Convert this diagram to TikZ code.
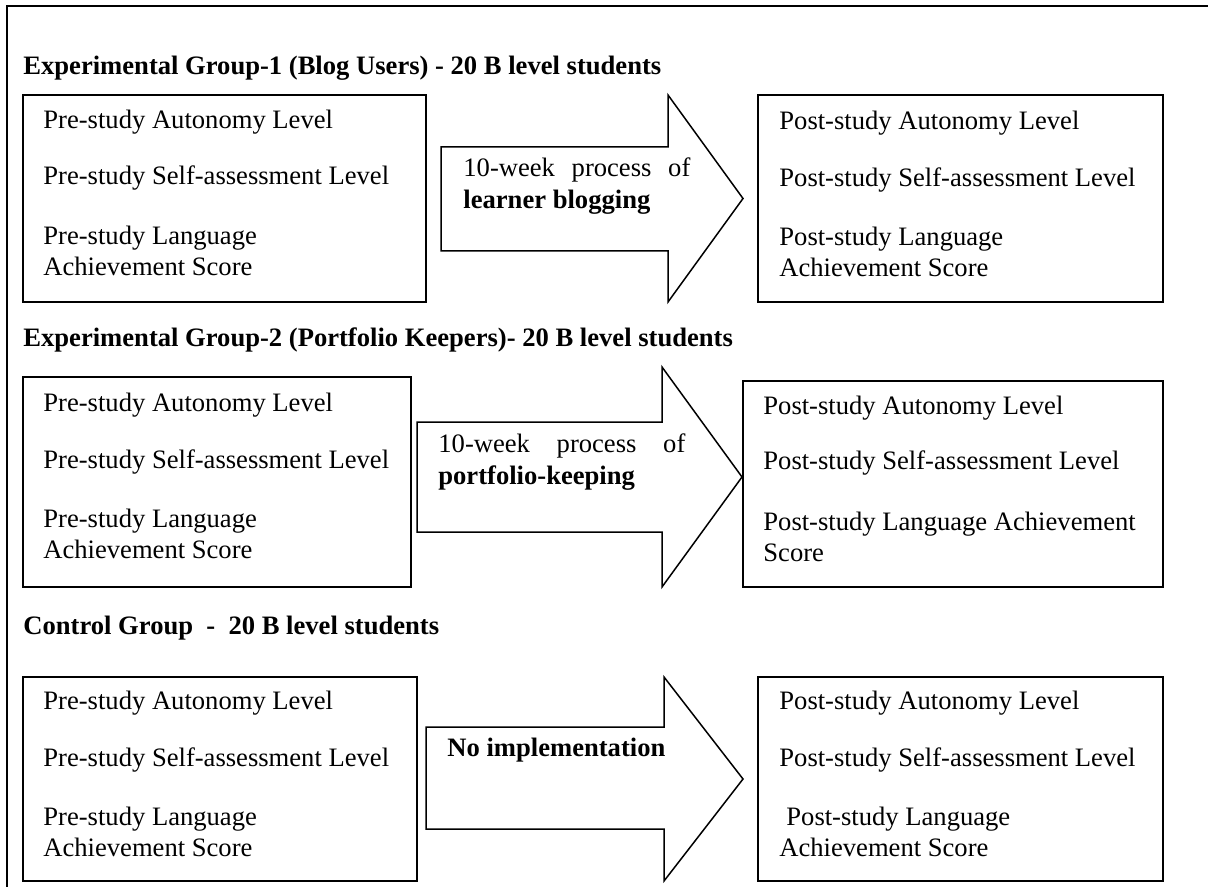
\documentclass[tikz,border=0pt]{standalone}
\usepackage{fontspec}
\setmainfont{Liberation Serif}
\begin{document}
\begin{tikzpicture}[x=0.5pt,y=-0.5pt,
    every node/.style={inner sep=0pt,font=\fontsize{13.3}{15.8}\selectfont},
    databox/.style={draw,line width=0.8pt},
    item/.style={anchor=west,align=left},
    grouptitle/.style={anchor=west,font=\fontsize{13.3}{15.8}\selectfont\bfseries},
    blockarrow/.style={draw,line width=0.75pt,line join=miter}]
        \useasboundingbox (0,0) rectangle (1208,887);
        \draw[line width=1.2pt] (7,887) -- (7,6) -- (1208,6);

        % group 1
        \node[grouptitle] at (23,68) (title1) {Experimental Group-1 (Blog Users) - 20 B level students};
        \node[databox,minimum width=201.5pt,minimum height=103.5pt] at (224.5,198.5) (pre1) {};
        \node[databox,minimum width=202.5pt,minimum height=103.5pt] at (960.5,198.5) (post1) {};
        \draw[blockarrow] (441,147) -- (668,147) -- (668,95) -- (743,198.5) -- (668,302) -- (668,251) -- (441,251) -- cycle;
        \node[item] at (43,122) (pre1a) {Pre-study Autonomy Level};
        \node[item] at (43,178) (pre1b) {Pre-study Self-assessment Level};
        \node[item] at (43,251) (pre1c) {Pre-study Language\\Achievement Score};
        \node[item] at (463,186) (proc1) {\makebox[113.5pt][s]{10-week process of}\\\textbf{learner blogging}};
        \node[item] at (779,123) (post1a) {Post-study Autonomy Level};
        \node[item] at (779,180) (post1b) {Post-study Self-assessment Level};
        \node[item] at (779,252) (post1c) {Post-study Language\\Achievement Score};

        % group 2
        \node[grouptitle] at (23,340) (title2) {Experimental Group-2 (Portfolio Keepers)- 20 B level students};
        \node[databox,minimum width=194pt,minimum height=105pt] at (217,482) (pre2) {};
        \node[databox,minimum width=210pt,minimum height=103pt] at (953,484) (post2) {};
        \draw[blockarrow] (417,422) -- (662,422) -- (662,367) -- (742,477) -- (662,587) -- (662,532) -- (417,532) -- cycle;
        \node[item] at (43,405) (pre2a) {Pre-study Autonomy Level};
        \node[item] at (43,462) (pre2b) {Pre-study Self-assessment Level};
        \node[item] at (43,534) (pre2c) {Pre-study Language\\Achievement Score};
        \node[item] at (438,462) (proc2) {\makebox[123.5pt][s]{10-week process of}\\\textbf{portfolio-keeping}};
        \node[item] at (763,408) (post2a) {Post-study Autonomy Level};
        \node[item] at (763,463) (post2b) {Post-study Self-assessment Level};
        \node[item] at (763,537) (post2c) {Post-study Language Achievement\\Score};

        % control group
        \node[grouptitle] at (23,628) (title3) {Control Group\ \ -\ \ 20 B level students};
        \node[databox,minimum width=197pt,minimum height=102pt] at (220,779) (pre3) {};
        \node[databox,minimum width=202.5pt,minimum height=102pt] at (960.5,779) (post3) {};
        \draw[blockarrow] (426,727) -- (664,727) -- (664,677) -- (743,779) -- (664,881) -- (664,829) -- (426,829) -- cycle;
        \node[item] at (43,703) (pre3a) {Pre-study Autonomy Level};
        \node[item] at (43,760) (pre3b) {Pre-study Self-assessment Level};
        \node[item] at (43,832) (pre3c) {Pre-study Language\\Achievement Score};
        \node[item,font=\fontsize{13.3}{15.8}\selectfont\bfseries] at (447,750) (proc3) {No implementation};
        \node[item] at (779,703) (post3a) {Post-study Autonomy Level};
        \node[item] at (779,760) (post3b) {Post-study Self-assessment Level};
        \node[item] at (779,832) (post3c) {\hspace*{3.5pt}Post-study Language\\Achievement Score};
\end{tikzpicture}
\end{document}
